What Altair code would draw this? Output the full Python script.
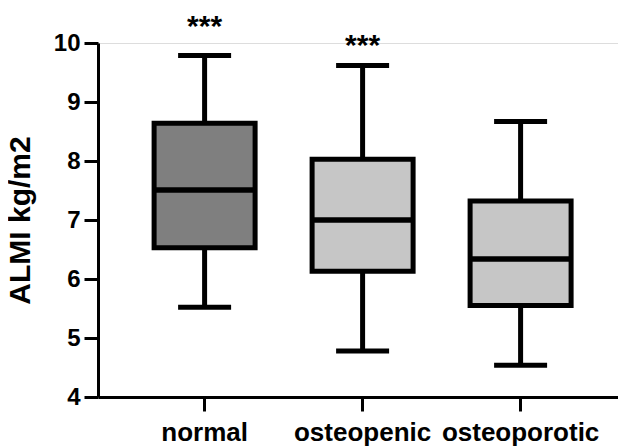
import altair as alt
import pandas as pd

categories = ["normal", "osteopenic", "osteoporotic"]
whisker_low = [5.52, 4.78, 4.54]
q1 = [6.53, 6.13, 5.55]
median = [7.51, 7.00, 6.34]
q3 = [8.64, 8.03, 7.32]
whisker_high = [9.79, 9.62, 8.67]
fills = ["#7f7f7f", "#c6c6c6", "#c6c6c6"]

star_labels = ["***", "***"]
star_cats = ["normal", "osteopenic"]
star_y = [10.12, 9.80]

df = pd.DataFrame({
    "cat": categories,
    "lo": whisker_low,
    "q1": q1,
    "med": median,
    "q3": q3,
    "hi": whisker_high,
    "fill": fills,
})
stars = pd.DataFrame({"cat": star_cats, "y": star_y, "t": star_labels})

FONT = "Liberation Sans"

x = alt.X(
    "cat:N",
    sort=categories,
    scale=alt.Scale(paddingInner=0, paddingOuter=0.1456, align=0.6),
    axis=alt.Axis(
        title=None, labelAngle=0, labelFont=FONT, labelFontSize=26,
        labelFontWeight="bold", labelColor="black", labelPadding=8,
        domainColor="black", domainWidth=3, tickColor="black",
        tickWidth=3, tickSize=14,
    ),
)
yscale = alt.Scale(domain=[4, 10], nice=False, zero=False)
yaxis = alt.Axis(
    title="ALMI kg/m2", titleFont=FONT, titleFontSize=30,
    titleFontWeight="bold", titleColor="black", titlePadding=18,
    values=[4, 5, 6, 7, 8, 9, 10], format="d", labelFont=FONT, labelFontSize=24,
    labelFontWeight="bold", labelColor="black", labelPadding=4,
    domainColor="black", domainWidth=3, tickColor="black", tickWidth=3,
    tickSize=14, grid=False,
)

base = alt.Chart(df)

whisk = base.mark_rule(color="black", strokeWidth=5).encode(
    x=x, y=alt.Y("lo:Q", scale=yscale, axis=yaxis), y2="hi:Q"
)
box = base.mark_bar(size=101, stroke="black", strokeWidth=5).encode(
    x=x, y=alt.Y("q1:Q", scale=yscale), y2="q3:Q",
    fill=alt.Fill("fill:N", scale=None),
)
med = base.mark_tick(size=101, thickness=5.5, color="black", opacity=1).encode(
    x=x, y=alt.Y("med:Q", scale=yscale)
)
cap_hi = base.mark_tick(size=53, thickness=5, color="black", opacity=1).encode(
    x=x, y=alt.Y("hi:Q", scale=yscale)
)
cap_lo = base.mark_tick(size=53, thickness=5, color="black", opacity=1).encode(
    x=x, y=alt.Y("lo:Q", scale=yscale)
)
star_text = alt.Chart(stars).mark_text(
    font=FONT, fontSize=30, fontWeight="bold", color="black",
    baseline="alphabetic", clip=False,
).encode(x=x, y=alt.Y("y:Q", scale=yscale), text="t:N")

chart = alt.layer(whisk, box, med, cap_hi, cap_lo, star_text).properties(
    width=520, height=354,
    autosize=alt.AutoSizeParams(type="none"),
    padding={"left": 90, "top": 35, "right": 0, "bottom": 49},
).configure_view(stroke=None).configure(background="white")

chart.save("out.html", embed_options={"renderer": "svg", "actions": False})
